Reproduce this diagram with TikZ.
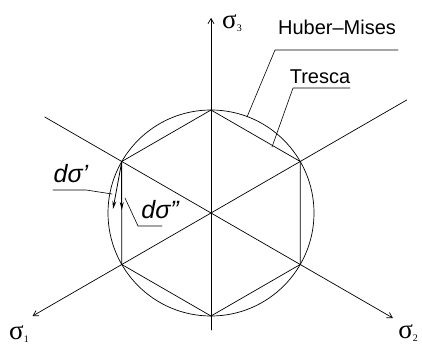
\documentclass[tikz,border=0pt]{standalone}
\usepackage{fontspec}
\setmainfont{Liberation Sans}
\newfontfamily\greekfont{Liberation Serif}
\usetikzlibrary{calc,arrows.meta}

\begin{document}
\begin{tikzpicture}[line cap=round,line join=round,x=1pt,y=1pt,
    axis/.style={line width=0.7pt,-{Straight Barb[length=5pt,width=6pt]}},
    leader/.style={line width=0.6pt},
    darrow/.style={line width=0.8pt,-{Stealth[length=8pt,width=4pt]}},
    axlabel/.style={inner sep=0pt,font=\greekfont\fontsize{27}{30}\selectfont},
    txtlabel/.style={inner sep=0pt,font=\fontsize{20}{24}\selectfont}]
	\useasboundingbox (0,0) rectangle (422,347);
	\coordinate (O) at (211,134);
	% axes
	\draw [axis] (211,17) -- (211,329);
	\draw [line width=0.7pt] ($(O)+(150:192)$) -- (O);
	\draw [axis] (O) -- ($(O)+(-30:210)$);
	\draw [line width=0.7pt] ($(O)+(30:226)$) -- (O);
	\draw [axis] (O) -- ($(O)+(210:206)$);
	% Huber-Mises circle and Tresca hexagon
	\draw [line width=0.7pt] (O) circle (103);
	\foreach \a in {90,150,210,270,330,30}
		\coordinate (v\a) at ($(O)+(\a:103)$);
	\draw [line width=0.7pt] (v90) -- (v150) -- (v210) -- (v270) -- (v330) -- (v30) -- cycle;
	% labels
	\node[axlabel,anchor=west] (s3) at (222,324) {σ\raisebox{-3pt}{\fontsize{10}{12}\selectfont 3}};
	\node[axlabel,anchor=west] (s1) at (9,13) {σ\raisebox{-3pt}{\fontsize{10}{12}\selectfont 1}};
	\node[axlabel,anchor=east] (s2) at (418,14) {σ\raisebox{-3pt}{\fontsize{10}{12}\selectfont 2}};
	\node[txtlabel] (huber) at (337,320) {Huber–Mises};
	\node[txtlabel] (tresca) at (320,270) {Tresca};
	\node[txtlabel,font=\itshape\fontsize{25}{28}\selectfont] (dsa) at (71,173) {dσ'};
	\node[txtlabel,font=\itshape\fontsize{25}{28}\selectfont] (dsb) at (160,137) {dσ''};
	% leaders
	\draw [leader] (398,297) -- (275,297) -- (247,230);
	\draw [leader] (350,259) -- (293,259) -- (272,200);
	\draw [leader] (53,157) -- (86,157) -- (112,153);
	\draw [leader] (162,121) -- (138,121) -- (125,149);
	% increments
	\draw [darrow] (v150) -- (113,138);
	\draw [darrow] (v150) -- (v150 |- 0,137);
\end{tikzpicture}
\end{document}
